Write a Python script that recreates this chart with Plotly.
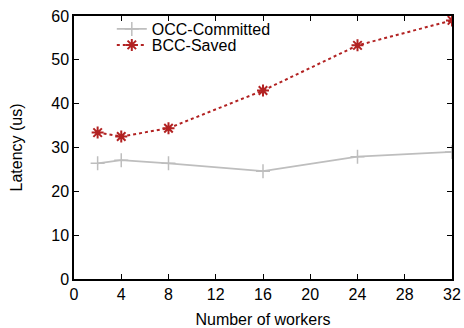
import plotly.graph_objects as go

# Latency measurements per worker count
workers = [2, 4, 8, 16, 24, 32]
occ_committed = [26.4, 27.1, 26.4, 24.6, 27.9, 29.0]
bcc_saved = [33.4, 32.5, 34.4, 43.0, 53.3, 59.0]

x_ticks = [0, 4, 8, 12, 16, 20, 24, 28, 32]
y_ticks = [0, 10, 20, 30, 40, 50, 60]

FONT = "Liberation Sans, Arial, sans-serif"

fig = go.Figure()
fig.add_trace(go.Scatter(
    x=workers, y=occ_committed, name="OCC-Committed",
    mode="lines+markers", legend="legend",
    line=dict(color="#bebebe", width=1.8),
    marker=dict(symbol="cross-thin-open", size=10,
                line=dict(color="#bebebe", width=1.5)),
))
fig.add_trace(go.Scatter(
    x=workers, y=bcc_saved, name="BCC-Saved",
    mode="lines+markers", legend="legend2",
    line=dict(color="#b22222", width=2, dash="dot"),
    marker=dict(symbol="asterisk-open", size=10,
                line=dict(color="#b22222", width=2)),
))

axis_common = dict(
    showline=True, linecolor="black", linewidth=1.5, mirror="ticks",
    ticks="inside", ticklen=5, tickwidth=1, tickcolor="black",
    showgrid=False, zeroline=False, automargin=False,
    tickfont=dict(family=FONT, size=16, color="black"),
)

legend_common = dict(
    xanchor="left", yanchor="middle", bgcolor="rgba(0,0,0,0)",
    itemwidth=30, font=dict(family=FONT, size=16, color="black"),
)

fig.update_layout(
    width=464, height=328,
    margin=dict(l=74, r=12, t=16, b=49),
    paper_bgcolor="white", plot_bgcolor="white",
    font=dict(family=FONT, size=16, color="black"),
    xaxis=dict(range=[0, 32], tickvals=x_ticks,
               title=dict(text="Number of workers", standoff=14,
                          font=dict(family=FONT, size=16)),
               **axis_common),
    yaxis=dict(range=[0, 60], tickvals=y_ticks,
               title=dict(text="Latency (us)", standoff=25,
                          font=dict(family=FONT, size=16)),
               **axis_common),
    legend=dict(x=0.1, y=0.9506, **legend_common),
    legend2=dict(x=0.1, y=0.8897, **legend_common),
    showlegend=True,
)

fig.write_html("out.html")
